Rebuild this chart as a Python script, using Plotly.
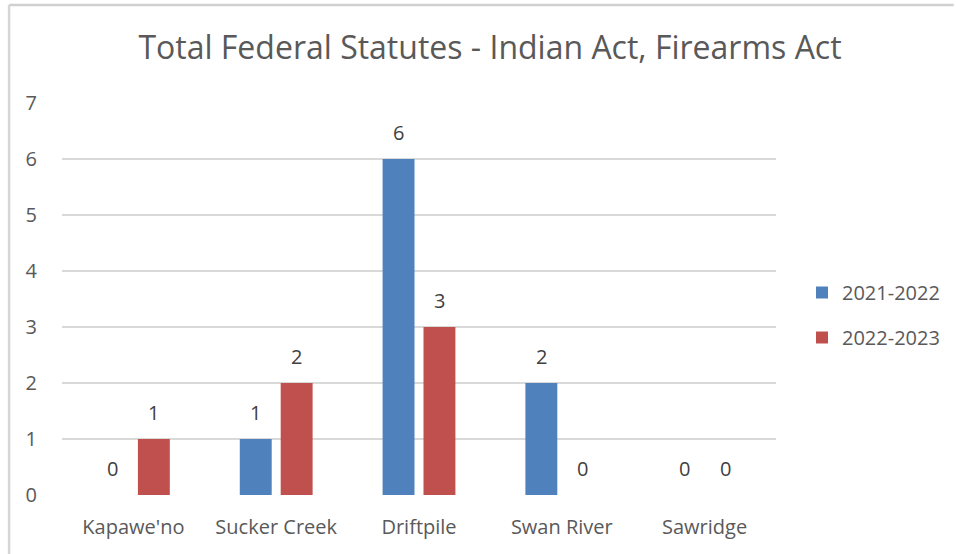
import plotly.graph_objects as go

categories = ["Kapawe'no", "Sucker Creek", "Driftpile", "Swan River", "Sawridge"]
series_names = ["2021-2022", "2022-2023"]
values_2021_2022 = [0, 1, 6, 2, 0]
values_2022_2023 = [1, 2, 3, 0, 0]
y_ticks = [0, 1, 2, 3, 4, 5, 6, 7]

colors = ["#4F81BD", "#C0504D"]
FONT = "Open Sans, Lato, sans-serif"
TXT = "#595959"

fig = go.Figure()
for name, vals, col in zip(series_names, [values_2021_2022, values_2022_2023], colors):
    fig.add_trace(go.Bar(
        x=categories, y=vals, name=name, legendgroup=name,
        marker=dict(color=col, line=dict(width=0)),
    ))

L, R, T, B = 62, 179, 103, 59
W, H = 956, 554
pw, ph = W - L - R, H - T - B

def px_x(p):
    return (p - L) / pw

def px_y(p):
    return (H - B - p) / ph

# data labels above each bar
annotations = []
for shift, vals in zip([-20.5, 20.5], [values_2021_2022, values_2022_2023]):
    for c, v in zip(categories, vals):
        annotations.append(dict(x=c, y=v, xref="x", yref="y", text=str(v),
                                showarrow=False, xshift=shift, yshift=27,
                                yanchor="middle", xanchor="center",
                                font=dict(family=FONT, size=20, color="#404040")))

fig.update_layout(
    width=W, height=H,
    margin=dict(l=L, r=R, t=T, b=B, pad=0),
    paper_bgcolor="white", plot_bgcolor="white",
    barmode="group", bargap=0.427, bargroupgap=0.22,
    title=dict(text="Total Federal Statutes - Indian Act, Firearms Act",
               x=490 / W, xanchor="center", y=1 - 48 / H, yanchor="middle",
               font=dict(family=FONT, size=32, color=TXT)),
    font=dict(family=FONT, size=20, color=TXT),
    xaxis=dict(showgrid=False, showline=False, ticks="", zeroline=False,
               ticklabelstandoff=18,
               tickfont=dict(family=FONT, size=20, color=TXT)),
    yaxis=dict(range=[0, 7], tickvals=y_ticks, showgrid=True, gridcolor="#D9D9D9",
               gridwidth=1.5, zeroline=False, showline=False, ticks="",
               ticklabelstandoff=24,
               tickfont=dict(family=FONT, size=20, color=TXT)),
    legend=dict(x=px_x(802), xanchor="left", y=px_y(315), yanchor="middle",
                font=dict(family=FONT, size=20, color=TXT),
                traceorder="grouped", tracegroupgap=16,
                itemwidth=30, bgcolor="rgba(0,0,0,0)"),
    showlegend=True,
    annotations=annotations,
    shapes=[
        dict(type="line", xref="paper", yref="paper",
             x0=px_x(9), x1=px_x(955), y0=px_y(5), y1=px_y(5),
             line=dict(color="#D0D0D0", width=2.5), layer="above"),
        dict(type="line", xref="paper", yref="paper",
             x0=px_x(9), x1=px_x(9), y0=px_y(5), y1=px_y(560),
             line=dict(color="#D6D6D6", width=2.5), layer="above"),
    ],
)

fig.write_html("out.html", config={"displayModeBar": False},
               post_script="document.body.style.margin='0';")
